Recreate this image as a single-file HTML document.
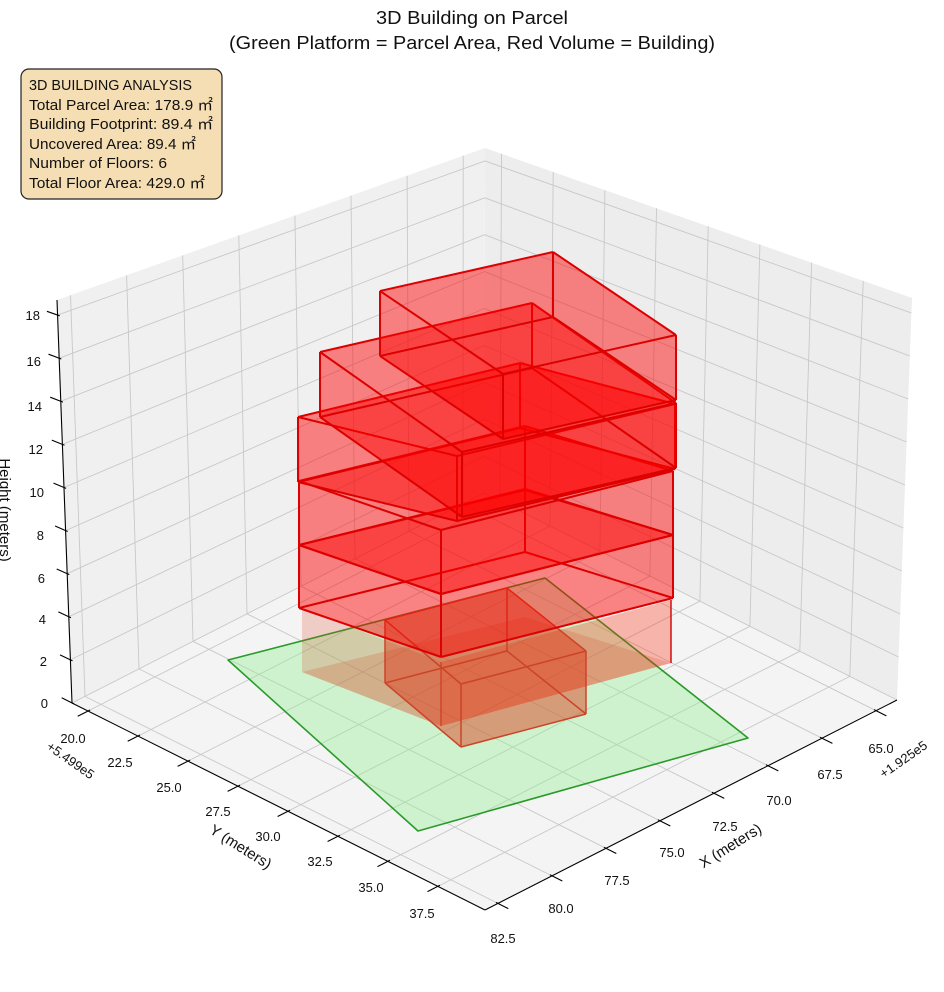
<!DOCTYPE html>
<html><head><meta charset="utf-8">
<style>
html,body{margin:0;padding:0;background:#fff;}
svg{display:block;}
text{font-family:"Liberation Sans","Noto Sans CJK SC",sans-serif;fill:#111;}
</style></head>
<body>
<svg id="s" width="944" height="992" viewBox="0 0 944 992" xmlns="http://www.w3.org/2000/svg">
<rect width="944" height="992" fill="#fff"/>
<g id="dyn"></g>
<text x="472" y="24" font-size="18" text-anchor="middle" textLength="192" lengthAdjust="spacingAndGlyphs">3D Building on Parcel</text>
<text x="472" y="49" font-size="18" text-anchor="middle" textLength="486" lengthAdjust="spacingAndGlyphs">(Green Platform = Parcel Area, Red Volume = Building)</text>
<rect x="21" y="69" width="201" height="130" rx="8" ry="8" fill="#f5deb3" stroke="#222" stroke-width="1.2"/>
<g font-size="15">
<text x="29" y="90" textLength="163" lengthAdjust="spacingAndGlyphs">3D BUILDING ANALYSIS</text>
<text x="29" y="110" textLength="184" lengthAdjust="spacingAndGlyphs">Total Parcel Area: 178.9 ㎡</text>
<text x="29" y="129" textLength="184" lengthAdjust="spacingAndGlyphs">Building Footprint: 89.4 ㎡</text>
<text x="29" y="149" textLength="167" lengthAdjust="spacingAndGlyphs">Uncovered Area: 89.4 ㎡</text>
<text x="29" y="168" textLength="138" lengthAdjust="spacingAndGlyphs">Number of Floors: 6</text>
<text x="29" y="188" textLength="176" lengthAdjust="spacingAndGlyphs">Total Floor Area: 429.0 ㎡</text>
</g>
<g font-size="13" text-anchor="end">
<text x="48" y="708">0</text>
<text x="47" y="666">2</text>
<text x="46" y="624">4</text>
<text x="45" y="583">6</text>
<text x="44" y="540">8</text>
<text x="44" y="497">10</text>
<text x="43" y="454">12</text>
<text x="42" y="411">14</text>
<text x="41" y="366">16</text>
<text x="40" y="320">18</text>
</g>
<g font-size="13" text-anchor="middle">
<text x="73" y="743">20.0</text>
<text x="120" y="767">22.5</text>
<text x="169" y="792">25.0</text>
<text x="218" y="816">27.5</text>
<text x="268" y="841">30.0</text>
<text x="320" y="866">32.5</text>
<text x="371" y="892">35.0</text>
<text x="422" y="918">37.5</text>
</g>
<g font-size="13" text-anchor="middle">
<text x="881" y="753">65.0</text>
<text x="830" y="779">67.5</text>
<text x="779" y="805">70.0</text>
<text x="725" y="831">72.5</text>
<text x="672" y="857">75.0</text>
<text x="617" y="885">77.5</text>
<text x="561" y="913">80.0</text>
<text x="503" y="943">82.5</text>
</g>
<text x="0" y="0" font-size="13" text-anchor="middle" transform="translate(68,764) rotate(35)">+5.499e5</text>
<text x="0" y="0" font-size="13" text-anchor="middle" transform="translate(906,763) rotate(-35)">+1.925e5</text>
<text x="0" y="0" font-size="15" text-anchor="middle" transform="translate(238,851) rotate(32)">Y (meters)</text>
<text x="0" y="0" font-size="15" text-anchor="middle" transform="translate(733,850) rotate(-32)">X (meters)</text>
<text x="0" y="0" font-size="15" text-anchor="middle" transform="translate(0,510) rotate(90)">Height (meters)</text>
</svg>
<script>
(function(){
var Bk=[484,493],Lf=[72,703],Fr=[485,910],Rt=[897,700];
var BkT=[485,148],LfT=[57,300],RtT=[912,298],FrT=[484,450];
function bil(P0,P1,P2,P3,a,b,i){return P0[i]*(1-a)*(1-b)+P1[i]*a*(1-b)+P2[i]*a*b+P3[i]*(1-a)*b;}
function P(a,b,c){var r=[];for(var i=0;i<2;i++){var f=bil(Bk,Lf,Fr,Rt,a,b,i),t=bil(BkT,LfT,FrT,RtT,a,b,i);r.push(f*(1-c)+t*c);}return r;}
var xmin=64.03,xmax=83.1,ymin=19.2,ymax=39.86,zmax=18.7;
function A(x){return (x-xmin)/(xmax-xmin);}function B(y){return (y-ymin)/(ymax-ymin);}function C(z){return z/zmax;}
var s='';
function poly(pts,fill,stroke,sw,op){s+='<polygon points="'+pts.map(function(p){return p[0].toFixed(1)+','+p[1].toFixed(1);}).join(' ')+'" fill="'+fill+'"'+(op!=null?' fill-opacity="'+op+'"':'')+' stroke="'+(stroke||'none')+'" stroke-width="'+(sw||0)+'" stroke-linejoin="round"/>';}
function line(p,q,col,w){s+='<line x1="'+p[0].toFixed(1)+'" y1="'+p[1].toFixed(1)+'" x2="'+q[0].toFixed(1)+'" y2="'+q[1].toFixed(1)+'" stroke="'+col+'" stroke-width="'+w+'"/>';}
poly([P(0,0,0),P(1,0,0),P(1,0,1),P(0,0,1)],'#f0f0f0');
poly([P(0,0,0),P(0,1,0),P(0,1,1),P(0,0,1)],'#ededed');
poly([P(0,0,0),P(1,0,0),P(1,1,0),P(0,1,0)],'#f4f4f4');
var xt=[65,67.5,70,72.5,75,77.5,80,82.5],yt=[20,22.5,25,27.5,30,32.5,35,37.5],zt=[0,2,4,6,8,10,12,14,16,18];
var gc='#c8c8c8',gw=0.9;
xt.forEach(function(x){var a=A(x);line(P(a,0,0),P(a,0,1),gc,gw);line(P(a,0,0),P(a,1,0),gc,gw);});
yt.forEach(function(y){var b=B(y);line(P(0,b,0),P(0,b,1),gc,gw);line(P(0,b,0),P(1,b,0),gc,gw);});
zt.forEach(function(z){var c=C(z);line(P(0,0,c),P(1,0,c),gc,gw);line(P(0,0,c),P(0,1,c),gc,gw);});
line(P(1,0,0),P(1,0,1),'#000',1.1);line(P(1,0,0),P(1,1,0),'#000',1.1);line(P(1,1,0),P(0,1,0),'#000',1.1);
xt.forEach(function(x){var a=A(x);line(P(a,0.995,0),P(a,1.025,0),'#000',1.1);});
yt.forEach(function(y){var b=B(y);line(P(0.995,b,0),P(1.025,b,0),'#000',1.1);});
zt.forEach(function(z){var c=C(z);line(P(1,0.005,c),P(1,-0.025,c),'#000',1.1);});
function box(T,h,fill,stroke,sw,op){
 var Bt=T.map(function(p){return [p[0],p[1]+h];});
 var faces=[[Bt[0],Bt[1],Bt[2],Bt[3]],[T[0],T[1],Bt[1],Bt[0]],[T[1],T[2],Bt[2],Bt[1]],[T[0],T[3],Bt[3],Bt[0]],[T[3],T[2],Bt[2],Bt[3]],[T[0],T[1],T[2],T[3]]];
 faces.forEach(function(f){poly(f,fill,null,0,op);});
 for(var i=0;i<4;i++){var j=(i+1)%4;line(T[i],T[j],stroke,sw);line(Bt[i],Bt[j],stroke,sw);line(T[i],Bt[i],stroke,sw);}
}
// green parcel
poly([[228,660],[545,578],[748,738],[418,831]],'#90ee90','#2a9a2a',1.6,0.38);
// ground-level extension of main mass
poly([[302,608],[441,662],[441,726],[302,672]],'#e04020',null,0,0.22);
poly([[441,662],[671,600],[671,663],[441,726]],'#ff2000',null,0,0.3);
poly([[302,672],[525,617],[671,663],[441,726]],'#d04020',null,0,0.2);
line([441,662],[441,726],'#c8402a',1.2);line([671,600],[671,663],'#d01010',1.5);
box([[385,620],[507,588],[586,651],[461,684]],63,'#e03010','#cc4428',1.5,0.25);
var rc='#dd0000';
box([[299,545],[525,489],[673,535],[441,594]],63,'#ff0000',rc,2,0.27);
box([[299,481],[525,426],[673,471],[441,530]],64,'#ff0000',rc,2,0.27);
box([[298,417],[520,363],[675,404],[457,456]],65,'#ff0000',rc,2,0.27);
box([[320,352],[532,303],[676,403],[462,452]],65,'#ff0000',rc,2,0.27);
box([[380,291],[553,252],[676,335],[503,374]],65,'#ff0000',rc,2,0.27);
document.getElementById('dyn').innerHTML=s;
})();
</script>
</body></html>
